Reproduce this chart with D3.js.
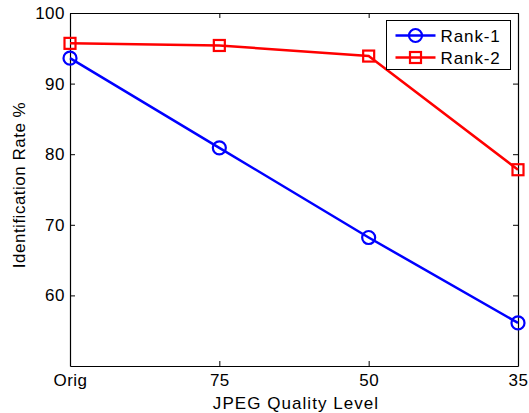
<!DOCTYPE html>
<html>
<head>
<meta charset="utf-8">
<script src="https://cdn.jsdelivr.net/npm/d3@7"></script>
<style>
  body { margin: 0; background: #fff; }
  text { font-family: "Liberation Sans", Arial, sans-serif; fill: #000; }
</style>
</head>
<body>
<div id="chart"></div>
<script>
// data
const levels = ["Orig", "75", "50", "35"];
const rank1 = [93.6, 80.9, 68.2, 56.1];
const rank2 = [95.7, 95.4, 93.9, 77.8];
const yTicks = [60, 70, 80, 90, 100];
const seriesNames = ["Rank-1", "Rank-2"];

function drawChart() {
  const W = 529, H = 413;
  const margin = {top: 13, right: 11, bottom: 47, left: 70};
  const width = W - margin.left - margin.right;
  const height = H - margin.top - margin.bottom;

  const svg = d3.select("#chart").append("svg")
    .attr("width", W)
    .attr("height", H);

  const g = svg.append("g")
    .attr("transform", "translate(" + margin.left + "," + margin.top + ")");

  const x = d3.scalePoint().domain(levels).range([0, width]);
  const y = d3.scaleLinear().domain([50, 100]).range([height, 0]);

  // axes box with inward ticks on all four sides
  const tick = 5;
  const bottom = g.append("g").attr("transform", "translate(0," + height + ")")
    .call(d3.axisBottom(x).tickSizeInner(-tick).tickSizeOuter(0).tickPadding(8));
  const top = g.append("g")
    .call(d3.axisTop(x).tickSizeInner(-tick).tickSizeOuter(0).tickFormat(""));
  const left = g.append("g")
    .call(d3.axisLeft(y).tickValues(yTicks).tickSizeInner(-tick).tickSizeOuter(0).tickPadding(5));
  const right = g.append("g").attr("transform", "translate(" + width + ",0)")
    .call(d3.axisRight(y).tickValues(yTicks).tickSizeInner(-tick).tickSizeOuter(0).tickFormat(""));

  [bottom, top, left, right].forEach(function(a) {
    a.select(".domain").attr("stroke", "#000").attr("stroke-width", 1.2);
    a.selectAll(".tick line").attr("stroke", "#000");
    a.selectAll("text").style("font-size", "17px")
      .style("letter-spacing", "0.5px")
      .style("font-family", "'Liberation Sans', Arial, sans-serif");
  });

  const series = [
    {name: seriesNames[0], values: rank1, color: "#0000ff", marker: "circle"},
    {name: seriesNames[1], values: rank2, color: "#ff0000", marker: "square"}
  ];

  const line = d3.line()
    .x(function(d, i) { return x(levels[i]); })
    .y(function(d) { return y(d); });

  function addMarker(sel, s, cx, cy) {
    if (s.marker === "circle") {
      sel.append("circle").attr("cx", cx).attr("cy", cy).attr("r", 6.5)
        .attr("fill", "none").attr("stroke", s.color).attr("stroke-width", 2.2);
    } else {
      sel.append("rect").attr("x", cx - 5.5).attr("y", cy - 5.5)
        .attr("width", 11).attr("height", 11)
        .attr("fill", "none").attr("stroke", s.color).attr("stroke-width", 2.2);
    }
  }

  series.forEach(function(s) {
    g.append("path").datum(s.values)
      .attr("d", line)
      .attr("fill", "none")
      .attr("stroke", s.color)
      .attr("stroke-width", 2.5);
    s.values.forEach(function(v, i) {
      addMarker(g, s, x(levels[i]), y(v));
    });
  });

  // legend
  const leg = g.append("g").attr("transform", "translate(316.5,7.5)");
  leg.append("rect").attr("width", 124).attr("height", 49)
    .attr("fill", "#fff").attr("stroke", "#000").attr("stroke-width", 1);
  series.forEach(function(s, i) {
    const ly = 15 + i * 22;
    leg.append("line").attr("x1", 9).attr("x2", 49).attr("y1", ly).attr("y2", ly)
      .attr("stroke", s.color).attr("stroke-width", 2.5);
    addMarker(leg, s, 29, ly);
    leg.append("text").attr("x", 54).attr("y", ly + 6)
      .style("font-size", "17px").style("letter-spacing", "0.9px").text(s.name);
  });

  // axis labels
  svg.append("text")
    .attr("x", 296).attr("y", 409)
    .attr("text-anchor", "middle").style("font-size", "17px")
    .style("letter-spacing", "1.05px")
    .text("JPEG Quality Level");
  svg.append("text")
    .attr("transform", "translate(25,185) rotate(-90)")
    .attr("text-anchor", "middle").style("font-size", "17px")
    .style("letter-spacing", "0.5px")
    .text("Identification Rate %");
}

window.onload = drawChart;
</script>
</body>
</html>
